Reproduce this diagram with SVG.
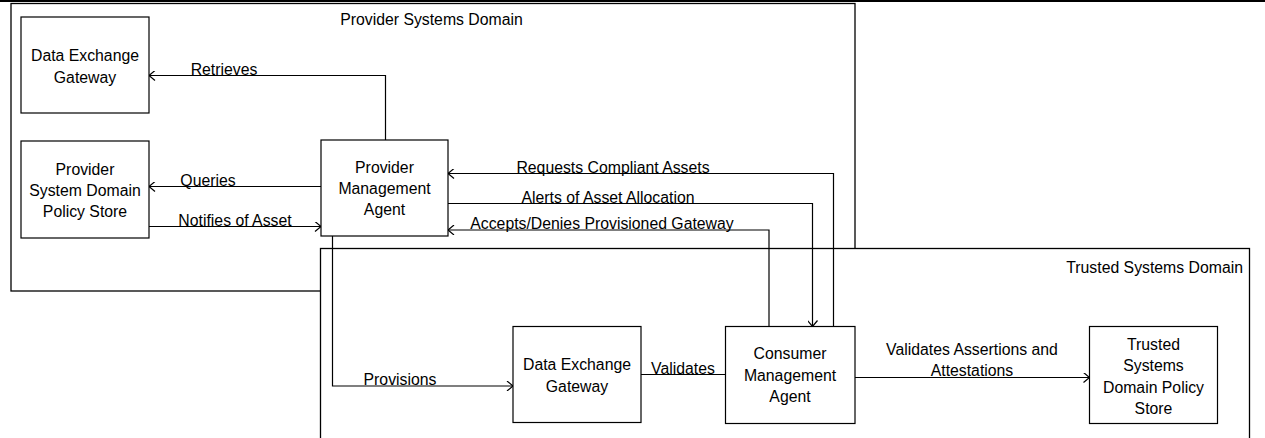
<svg xmlns="http://www.w3.org/2000/svg" width="1265" height="438" viewBox="0 0 1265 438">
<style>
text{font-family:"Liberation Sans",Arial,sans-serif;font-size:15.8px;fill:#000}
.c{text-anchor:middle}
.box{fill:#fff;stroke:#000;stroke-width:1.2}
.dom{fill:#fff;stroke:#000;stroke-width:1.3}
.ln{fill:none;stroke:#000;stroke-width:1.2}
</style>
<defs>
<marker id="ah" viewBox="0 0 10 10" refX="9" refY="5" markerWidth="10" markerHeight="10" markerUnits="userSpaceOnUse" orient="auto">
<polyline points="3,0 9,5 3,10" fill="none" stroke="#000" stroke-width="1.2"/>
</marker>
</defs>
<line x1="0" y1="1" x2="1265" y2="1" stroke="#000" stroke-width="2"/>
<g id="provider-domain">
<rect class="dom" x="11" y="3.5" width="844" height="287.5"/>
<text class="c" x="431.5" y="24.5">Provider Systems Domain</text>
</g>
<g id="trusted-domain">
<rect class="dom" x="320.5" y="248.5" width="929" height="200"/>
<text x="1243" y="272.5" text-anchor="end">Trusted Systems Domain</text>
</g>
<g id="connectors">
<polyline class="ln" points="385.5,140 385.5,75.5 149,75.5" marker-end="url(#ah)"/>
<text class="c" x="224" y="74.5">Retrieves</text>
<line class="ln" x1="321" y1="186.5" x2="149" y2="186.5" marker-end="url(#ah)"/>
<text class="c" x="208" y="185.5">Queries</text>
<line class="ln" x1="149" y1="226.5" x2="321" y2="226.5" marker-end="url(#ah)"/>
<text class="c" x="235" y="225.5">Notifies of Asset</text>
<polyline class="ln" points="833.5,326.5 833.5,173.5 448,173.5" marker-end="url(#ah)"/>
<text class="c" x="613" y="172.5">Requests Compliant Assets</text>
<polyline class="ln" points="448,203.5 812.5,203.5 812.5,326.5" marker-end="url(#ah)"/>
<text class="c" x="608" y="202.5">Alerts of Asset Allocation</text>
<polyline class="ln" points="769,326.5 769,230 448,230" marker-end="url(#ah)"/>
<text class="c" x="602" y="229">Accepts/Denies Provisioned Gateway</text>
<polyline class="ln" points="332.5,236 332.5,386 513,386" marker-end="url(#ah)"/>
<text class="c" x="400" y="385">Provisions</text>
<line class="ln" x1="641" y1="374.5" x2="725.5" y2="374.5"/>
<text class="c" x="683" y="373.5">Validates</text>
<line class="ln" x1="855" y1="377.5" x2="1089.5" y2="377.5" marker-end="url(#ah)"/>
<text class="c" x="972" y="354.5">Validates Assertions and</text>
<text class="c" x="972" y="376">Attestations</text>
</g>
<g id="deg-provider">
<rect class="box" x="21" y="17" width="128" height="96"/>
<text class="c" x="85" y="60.5">Data Exchange</text>
<text class="c" x="85" y="82.5">Gateway</text>
</g>
<g id="psd-policy-store">
<rect class="box" x="21" y="141" width="128" height="97"/>
<text class="c" x="85" y="174.5">Provider</text>
<text class="c" x="85" y="195.5">System Domain</text>
<text class="c" x="85" y="216.5">Policy Store</text>
</g>
<g id="provider-mgmt-agent">
<rect class="box" x="321" y="140" width="127" height="96"/>
<text class="c" x="384.5" y="172.5">Provider</text>
<text class="c" x="384.5" y="193.5">Management</text>
<text class="c" x="384.5" y="214.5">Agent</text>
</g>
<g id="deg-trusted">
<rect class="box" x="513" y="326.5" width="128" height="96"/>
<text class="c" x="577" y="369.5">Data Exchange</text>
<text class="c" x="577" y="391.5">Gateway</text>
</g>
<g id="consumer-mgmt-agent">
<rect class="box" x="725.5" y="326.5" width="129.5" height="97"/>
<text class="c" x="790" y="359">Consumer</text>
<text class="c" x="790" y="381">Management</text>
<text class="c" x="790" y="402">Agent</text>
</g>
<g id="trusted-policy-store">
<rect class="box" x="1089.5" y="326.5" width="128" height="97"/>
<text class="c" x="1153.5" y="349.5">Trusted</text>
<text class="c" x="1153.5" y="370.5">Systems</text>
<text class="c" x="1153.5" y="392.5">Domain Policy</text>
<text class="c" x="1153.5" y="413.5">Store</text>
</g>
</svg>
